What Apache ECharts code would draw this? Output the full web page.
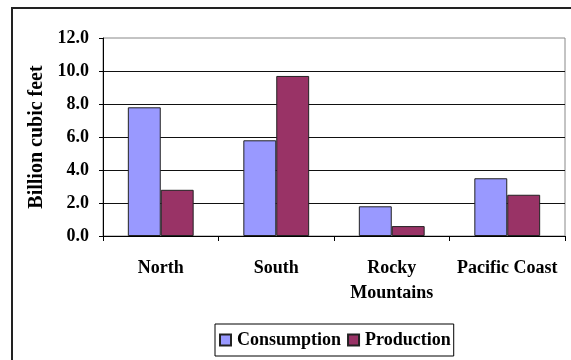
<!DOCTYPE html>
<html>
<head>
<meta charset="utf-8">
<script src="https://cdn.jsdelivr.net/npm/echarts@6/dist/echarts.min.js"></script>
<style>html,body{margin:0;padding:0;background:#fff;}#c{width:571px;height:360px;}</style>
</head>
<body>
<div id="c"></div>
<script>
const categories = ['North', 'South', 'Rocky\nMountains', 'Pacific Coast'];
const consumption = [7.8, 5.8, 1.8, 3.5];
const production = [2.8, 9.7, 0.6, 2.5];
const yTicks = { min: 0, max: 12, interval: 2 };

const font = 'Liberation Serif';
const chart = echarts.init(document.getElementById('c'), null, { renderer: 'canvas' });
chart.setOption({
  animation: false,
  backgroundColor: '#fff',
  textStyle: { fontFamily: font },
  graphic: [{
    type: 'rect', silent: true, z: 100,
    shape: { x: 12, y: 8, width: 700, height: 500 },
    style: { fill: null, stroke: '#222', lineWidth: 2 }
  }],
  grid: { left: 103, right: 6, top: 38, bottom: 124, show: true, borderColor: '#888', borderWidth: 1, backgroundColor: 'transparent' },
  legend: {
    left: 215, top: 324,
    data: ['Consumption', 'Production'],
    borderColor: '#000', borderWidth: 1,
    padding: [7, 3, 7, 4],
    itemWidth: 11, itemHeight: 11, itemGap: 6,
    icon: 'rect',
    textStyle: { fontFamily: font, fontWeight: 'bold', fontSize: 18, color: '#000', padding: [0, 0, 0, 1] }
  },
  xAxis: {
    type: 'category',
    data: categories,
    axisLine: { lineStyle: { color: '#000', width: 1 } },
    axisTick: { show: true, length: 5, alignWithLabel: false, lineStyle: { color: '#000' } },
    axisLabel: { fontFamily: font, fontWeight: 'bold', fontSize: 18, color: '#000', margin: 20, lineHeight: 25, interval: 0 }
  },
  yAxis: {
    type: 'value',
    min: yTicks.min, max: yTicks.max, interval: yTicks.interval,
    name: 'Billion cubic feet',
    nameLocation: 'middle', nameGap: 52,
    nameTextStyle: { fontFamily: font, fontWeight: 'bold', fontSize: 20, color: '#000' },
    axisLine: { show: true, lineStyle: { color: '#000', width: 1 } },
    axisTick: { show: true, length: 4, lineStyle: { color: '#000' } },
    axisLabel: { fontFamily: font, fontWeight: 'bold', fontSize: 18, color: '#000', margin: 14, formatter: v => v.toFixed(1) },
    splitLine: { show: true, showMaxLine: false, lineStyle: { color: '#111', width: 1 } }
  },
  series: [
    { name: 'Consumption', type: 'bar', data: consumption, barGap: '0%', barCategoryGap: '43%',
      itemStyle: { color: '#9999FF', borderColor: '#222', borderWidth: 1 } },
    { name: 'Production', type: 'bar', data: production,
      itemStyle: { color: '#993366', borderColor: '#222', borderWidth: 1 } }
  ]
});
</script>
</body>
</html>
